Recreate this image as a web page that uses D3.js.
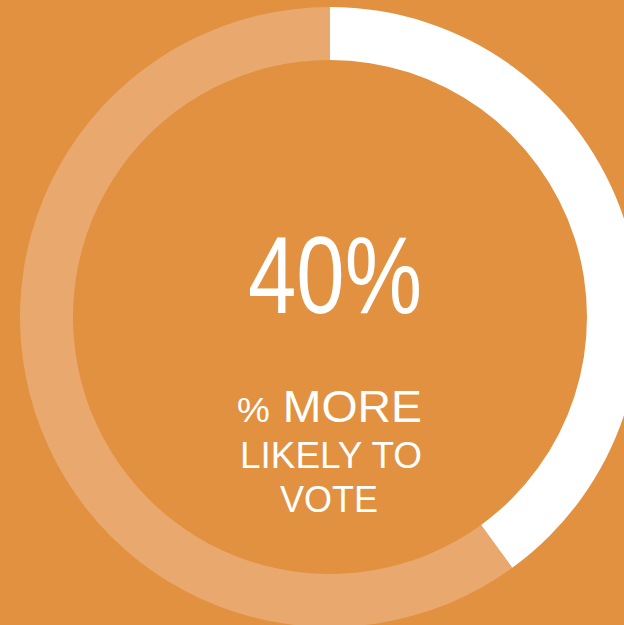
<!DOCTYPE html>
<html>
<head>
<meta charset="utf-8">
<script src="https://cdn.jsdelivr.net/npm/d3@7/dist/d3.min.js"></script>
<style>
  html, body { margin: 0; padding: 0; background: #E29140; overflow: hidden; }
  svg { display: block; }
</style>
</head>
<body>
<svg id="chart" width="624" height="625"></svg>
<script>
// Share of people more likely to vote, and the remainder of the ring
const segments = ["more likely", "rest"];
const values = [40, 60];
const segmentColors = ["#FFFFFF", "#E9A96E"];
const headline = values[0] + "%";
const captionLines = [["%", " MORE"], ["LIKELY TO"], ["VOTE"]];

const width = 624, height = 625;
const cx = 330, cy = 317;
const outerR = 310, innerR = 257;

const svg = d3.select("#chart");
svg.append("rect").attr("width", width).attr("height", height).attr("fill", "#E29140");

const g = svg.append("g").attr("transform", `translate(${cx},${cy})`);

const pie = d3.pie().sort(null).value(d => d.v);
const arc = d3.arc().innerRadius(innerR).outerRadius(outerR);
const data = segments.map((s, i) => ({ s, v: values[i], c: segmentColors[i] }));

g.selectAll("path.seg")
  .data(pie(data))
  .join("path")
  .attr("class", "seg")
  .attr("d", arc)
  .attr("fill", d => d.data.c);

const font = "Liberation Sans, Arial, Helvetica, sans-serif";

// Big percentage in the middle, set slightly condensed
g.append("text")
  .attr("x", 5 - 87)
  .attr("y", -4)
  .attr("font-family", font)
  .attr("font-size", 110)
  .attr("fill", "#FFFFFF")
  .attr("textLength", 174)
  .attr("lengthAdjust", "spacingAndGlyphs")
  .text(headline);

// Caption lines: [centre x offset, baseline, font size, width]
const captionLayout = [
  { dx: -0.5, y: 105, size: 44, w: 185 },
  { dx: 1,    y: 151, size: 37, w: 182 },
  { dx: -1,   y: 195, size: 37, w: 98 }
];

const cap = g.append("g")
  .attr("font-family", font)
  .attr("fill", "#FFFFFF");

captionLines.forEach((parts, i) => {
  const L = captionLayout[i];
  const t = cap.append("text")
    .attr("x", L.dx - L.w / 2)
    .attr("y", L.y)
    .attr("font-size", L.size)
    .attr("textLength", L.w)
    .attr("lengthAdjust", "spacingAndGlyphs");
  if (parts.length === 2) {
    t.append("tspan").attr("font-size", 35).text(parts[0]);
    t.append("tspan").text(parts[1]);
  } else {
    t.text(parts[0]);
  }
});
</script>
</body>
</html>
